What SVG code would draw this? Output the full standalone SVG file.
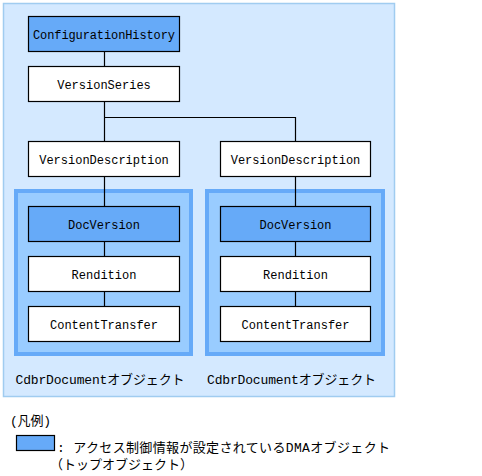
<svg xmlns="http://www.w3.org/2000/svg" width="482" height="476" viewBox="0 0 482 476">
<style>
.node{stroke:#000;stroke-width:1.2;fill:#fff}
.top{fill:#66aaf8}
.grp{fill:#99ccff;stroke:#66aaf8;stroke-width:4}
.t{font-family:"Liberation Mono","Noto Sans CJK JP",monospace;font-size:12px;fill:#000;text-anchor:middle}
.j{font-family:"Liberation Mono","Noto Sans CJK JP",monospace;font-size:13px;fill:#000}
.c{stroke:#000;stroke-width:1.2;fill:none}
</style>
<rect width="482" height="476" fill="#fff"/>
<rect x="3.5" y="3.5" width="391" height="393" fill="#d4e9ff" stroke="#a0ccf0" stroke-width="1.5"/>
<g id="group-left"><rect class="grp" x="16" y="191" width="175" height="163"/></g>
<g id="group-right"><rect class="grp" x="207" y="191" width="176" height="163"/></g>
<g id="connectors">
<path class="c" d="M104.5 51V66M104.5 101V141M104.5 117.5H295.5V141M104.5 176V206M295.5 176V206M104.5 241V256M104.5 291V306M295.5 241V256M295.5 291V306"/>
</g>
<g id="configurationHistory"><rect class="node top" x="28.5" y="16.5" width="151" height="35"/><text class="t" x="104" y="38.5" textLength="142" lengthAdjust="spacing">ConfigurationHistory</text></g>
<g id="versionSeries"><rect class="node" x="28.5" y="66.5" width="151" height="35"/><text class="t" x="104" y="88.5">VersionSeries</text></g>
<g id="versionDescription1"><rect class="node" x="28.5" y="141.5" width="151" height="35"/><text class="t" x="104" y="163.5">VersionDescription</text></g>
<g id="versionDescription2"><rect class="node" x="220.5" y="141.5" width="150" height="35"/><text class="t" x="295.5" y="163.5">VersionDescription</text></g>
<g id="docVersion1"><rect class="node top" x="28.5" y="206.5" width="151" height="35"/><text class="t" x="104" y="228.5">DocVersion</text></g>
<g id="rendition1"><rect class="node" x="28.5" y="256.5" width="151" height="35"/><text class="t" x="104" y="278.5">Rendition</text></g>
<g id="contentTransfer1"><rect class="node" x="28.5" y="306.5" width="151" height="35"/><text class="t" x="104" y="328.5">ContentTransfer</text></g>
<g id="docVersion2"><rect class="node top" x="220.5" y="206.5" width="150" height="35"/><text class="t" x="295.5" y="228.5">DocVersion</text></g>
<g id="rendition2"><rect class="node" x="220.5" y="256.5" width="150" height="35"/><text class="t" x="295.5" y="278.5">Rendition</text></g>
<g id="contentTransfer2"><rect class="node" x="220.5" y="306.5" width="150" height="35"/><text class="t" x="295.5" y="328.5">ContentTransfer</text></g>
<text class="j" x="15.5" y="384" textLength="169" lengthAdjust="spacing">CdbrDocumentオブジェクト</text>
<text class="j" x="207" y="384" textLength="169" lengthAdjust="spacing">CdbrDocumentオブジェクト</text>
<g id="legend">
<text class="j" x="10" y="425" textLength="41" lengthAdjust="spacing">(凡例)</text>
<rect class="node top" x="16.5" y="435.5" width="38" height="15"/>
<text class="j" x="57" y="452" textLength="333" lengthAdjust="spacing">: アクセス制御情報が設定されているDMAオブジェクト</text>
<text class="j" x="50" y="469" textLength="143" lengthAdjust="spacing">（トップオブジェクト）</text>
</g>
</svg>
